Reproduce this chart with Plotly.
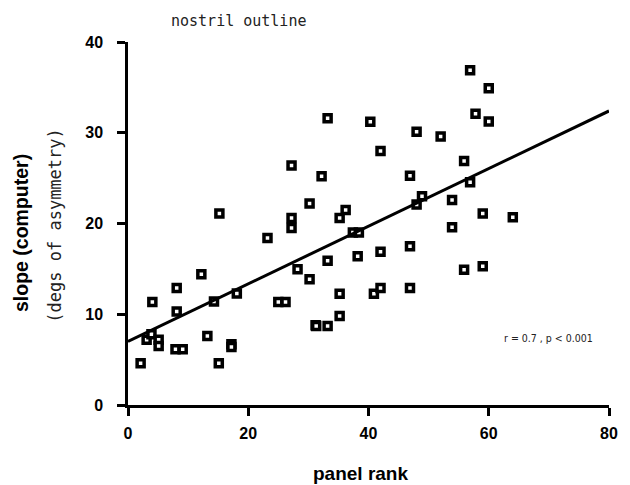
import plotly.graph_objects as go

# panel rank (x) and slope in degrees of asymmetry (y)
rank = [2.1, 3.1, 3.9, 5.1, 5.1, 4.05, 8.1, 8.1, 7.9, 9.1,
        12.2, 13.2, 14.3, 15.2, 15.1, 17.2, 17.2, 18.1, 23.2, 25.0,
        26.2, 27.2, 27.2, 28.2, 30.2, 30.2, 31.2, 56.9, 33.2, 40.3,
        57.8, 48.0, 52.0, 42.0, 27.2, 32.2, 46.9, 55.9, 56.9, 48.9,
        48.0, 53.9, 36.2, 35.2, 37.4, 38.4, 53.9, 59.0, 60.0, 60.0,
        64.0, 46.9, 55.9, 59.0, 46.9, 33.2, 38.2, 42.0, 35.2, 40.9,
        42.0, 35.2, 31.3, 33.2]
slope = [4.6, 7.2, 7.8, 7.2, 6.5, 11.35, 12.9, 10.3, 6.15, 6.15,
         14.4, 7.6, 11.4, 21.1, 4.6, 6.7, 6.4, 12.3, 18.4, 11.35,
         11.35, 20.6, 19.5, 14.95, 22.2, 13.85, 8.8, 36.9, 31.6, 31.2,
         32.1, 30.1, 29.6, 28.0, 26.4, 25.2, 25.25, 26.9, 24.55, 23.0,
         22.1, 22.6, 21.5, 20.6, 19.0, 19.0, 19.6, 21.1, 34.9, 31.25,
         20.7, 17.5, 14.9, 15.3, 12.9, 15.9, 16.4, 16.9, 12.25, 12.25,
         12.9, 9.8, 8.7, 8.7]

# regression line end points
fit_x = [0, 80]
fit_y = [7.0, 32.4]

x_ticks = [0, 20, 40, 60, 80]
y_ticks = [0, 10, 20, 30, 40]

fig = go.Figure()
fig.add_trace(go.Scatter(
    x=rank, y=slope, mode="markers",
    marker=dict(symbol="square", size=7, color="white",
                line=dict(color="black", width=3.5)),
    showlegend=False, cliponaxis=False, hoverinfo="skip"))
fig.add_trace(go.Scatter(
    x=fit_x, y=fit_y, mode="lines",
    line=dict(color="black", width=3), showlegend=False, hoverinfo="skip"))

tickfont = dict(family="Liberation Sans, Arial, sans-serif", size=16,
                color="black", weight="bold")

fig.update_xaxes(range=[0, 80], tickvals=x_ticks, ticktext=[str(v) for v in x_ticks],
                 showgrid=False, zeroline=False, showline=True, linecolor="black",
                 linewidth=2.5, ticks="outside", ticklen=8, tickwidth=2.5,
                 tickcolor="black", tickfont=tickfont, ticklabelstandoff=4)
fig.update_yaxes(range=[0, 40], tickvals=y_ticks, ticktext=[str(v) for v in y_ticks],
                 showgrid=False, zeroline=False, showline=True, linecolor="black",
                 linewidth=2.5, ticks="outside", ticklen=8, tickwidth=2.5,
                 tickcolor="black", tickfont=tickfont, ticklabelstandoff=11)

fig.add_annotation(text="nostril outline", xref="paper", yref="paper",
                   x=0.229, y=1.058, xanchor="center", yanchor="middle", showarrow=False,
                   font=dict(family="DejaVu Sans Mono, monospace", size=15, color="#222"))
fig.add_annotation(text="slope (computer)", xref="paper", yref="paper",
                   x=-0.221, y=0.473, xanchor="center", yanchor="middle",
                   textangle=-90, showarrow=False,
                   font=dict(family="Liberation Sans, Arial, sans-serif", size=19.5,
                             color="black", weight="bold"))
fig.add_annotation(text="(degs of asymmetry)", xref="paper", yref="paper",
                   x=-0.151, y=0.495, xanchor="center", yanchor="middle",
                   textangle=-90, showarrow=False,
                   font=dict(family="DejaVu Sans Mono, monospace", size=17, color="#222"))
fig.add_annotation(text="panel rank", xref="paper", yref="paper",
                   x=0.483, y=-0.19, xanchor="center", yanchor="middle", showarrow=False,
                   font=dict(family="Liberation Sans, Arial, sans-serif", size=19,
                             color="black", weight="bold"))
fig.add_annotation(text="r = 0.7 , p < 0.001", xref="x", yref="y",
                   x=69.9, y=7.4, xanchor="center", yanchor="middle", showarrow=False,
                   font=dict(family="DejaVu Sans Condensed, Liberation Sans Narrow, Liberation Sans, sans-serif",
                             size=10.5, color="#222", weight=300))

fig.update_layout(width=630, height=485, margin=dict(l=128, r=18, t=42, b=80),
                  plot_bgcolor="white", paper_bgcolor="white", hovermode=False)

fig.write_html("out.html", config={"displayModeBar": False},
               post_script="document.body.style.margin='0';document.body.style.padding='0';")
